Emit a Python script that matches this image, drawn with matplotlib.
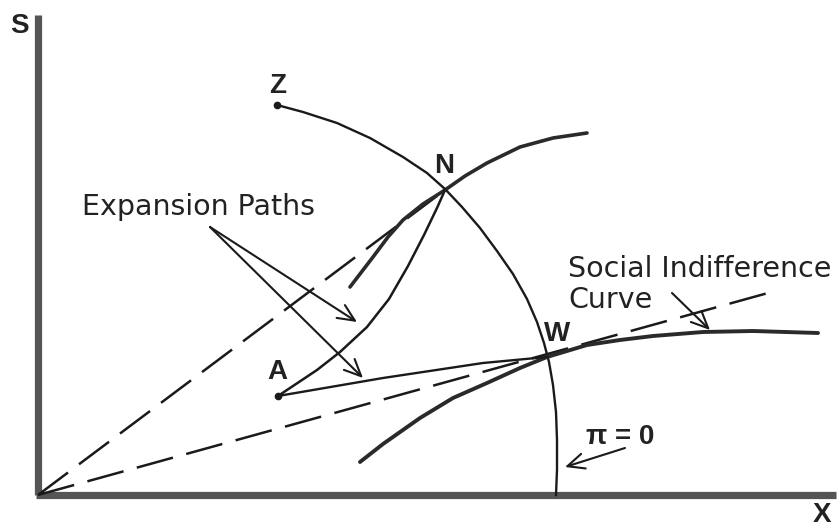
import matplotlib
matplotlib.use("Agg")
import matplotlib.pyplot as plt

# ---- data (diagram coordinates; origin at the axes corner) ----
z_arc_x = [239, 265, 299, 332, 365, 389, 407, 424, 442, 459, 475, 489, 499, 506, 511, 515, 518, 519, 519, 518]
z_arc_y = [390, 383, 372, 357, 338, 322, 306, 288, 267, 244, 221, 196, 173, 152, 133, 110, 83, 55, 25, 0]

upper_ic_x = [312, 335, 350, 365, 385, 407, 427, 449, 482, 515, 549]
upper_ic_y = [208, 238, 258, 275, 291, 305, 319, 332, 348, 357, 362]

lower_ic_x = [322, 345, 382, 415, 449, 482, 509, 549, 582, 615, 665, 715, 780]
lower_ic_y = [33, 51, 77, 97, 112, 127, 138, 150, 155, 159, 163, 164, 162]

path_an_x = [240, 279, 302, 329, 351, 370, 386, 399, 407]
path_an_y = [99, 125, 143, 168, 196, 229, 260, 287, 305]

path_aw_x = [240, 345, 445, 509]
path_aw_y = [99, 117, 132, 138]

ray_n_x = [0, 407]
ray_n_y = [0, 305]
ray_w_x = [0, 730]
ray_w_y = [0, 202]

point_z = (239, 390)
point_a = (240, 99)

fig = plt.figure(figsize=(8.38, 5.31), dpi=100)
ax = fig.add_axes([0, 0, 1, 1])
ax.set_xlim(-38, 800)
ax.set_ylim(-36, 495)
ax.axis("off")

LETTER_FONT = ["Liberation Sans", "DejaVu Sans"]
TEXT_FONT = ["DejaVu Sans"]

# axes
ax.plot([0, 0], [0, 480], color="#555555", lw=5.2, solid_capstyle="butt")
ax.plot([-2, 798], [0, 0], color="#555555", lw=5.2, solid_capstyle="butt")

# dashed rays from origin
ax.plot(ray_n_x, ray_n_y, color="#1a1a1a", lw=1.8, dashes=(15, 5.5))
ax.plot(ray_w_x, ray_w_y, color="#1a1a1a", lw=1.8, dashes=(15, 5.5))

# curves
ax.plot(z_arc_x, z_arc_y, color="#1a1a1a", lw=1.7, solid_joinstyle="round")
ax.plot(upper_ic_x, upper_ic_y, color="#2a2a2a", lw=2.6, solid_capstyle="round",
        solid_joinstyle="round")
ax.plot(lower_ic_x, lower_ic_y, color="#2a2a2a", lw=2.8, solid_capstyle="round",
        solid_joinstyle="round")
ax.plot(path_an_x, path_an_y, color="#1a1a1a", lw=1.8, solid_joinstyle="round")
ax.plot(path_aw_x, path_aw_y, color="#1a1a1a", lw=1.7, solid_joinstyle="round")

# points
ax.plot(*point_z, "o", color="#1a1a1a", ms=4.5)
ax.plot(*point_a, "o", color="#1a1a1a", ms=4.5)

# labels
lab = dict(fontfamily=LETTER_FONT, fontweight="bold", fontsize=20, color="#222222",
           ha="center", va="center")
ax.text(-19, 469, "S", **lab)
ax.text(784, -20, "X", **lab)
ax.text(240, 409, "Z", **lab)
ax.text(406, 329, "N", **lab)
ax.text(519, 161, "W", **lab)
ax.text(239, 123, "A", **lab)

txt = dict(fontfamily=TEXT_FONT, fontsize=20.5, color="#222222", va="center", ha="left")
ax.text(44, 288, "Expansion Paths", **txt)
ax.text(530, 226, "Social Indifference", **txt)
ax.text(530, 195, "Curve", **txt)
ax.text(582, 58, "π = 0", fontfamily=LETTER_FONT, fontsize=20, fontweight="bold",
        color="#222222", ha="center", va="center")

arrow = dict(arrowstyle="->,head_length=0.55,head_width=0.25", color="#1a1a1a",
             lw=1.5, mutation_scale=22, shrinkA=0, shrinkB=0)
ax.annotate("", xy=(319, 173), xytext=(172, 268), arrowprops=arrow)
ax.annotate("", xy=(325, 117), xytext=(172, 268), arrowprops=arrow)
ax.annotate("", xy=(672, 165), xytext=(634, 202), arrowprops=arrow)
ax.annotate("", xy=(527, 28), xytext=(587, 47), arrowprops=arrow)

fig.savefig("out.png", dpi=100, facecolor="white")
